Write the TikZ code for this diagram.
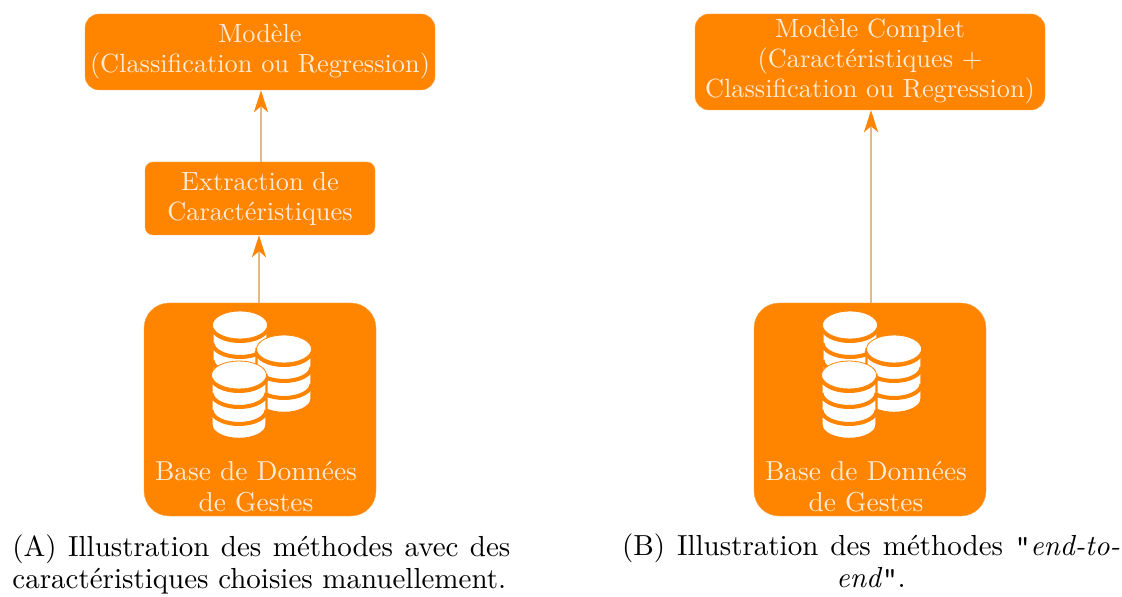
\documentclass[tikz,border=0pt]{standalone}
\usepackage{fontspec}
\setmainfont{lmroman10-regular}[Extension=.otf,ItalicFont=lmroman10-italic]
\setmonofont{lmmono10-regular}[Extension=.otf]
\usetikzlibrary{arrows.meta}
\definecolor{boxor}{HTML}{FF8400}
\definecolor{boxtxt}{HTML}{FFEAD6}
\definecolor{arrowtan}{HTML}{E4B98A}
\newcommand\lowarc[1]{(-27.5,#1) .. controls (-27.5,#1+7.7) and (-15.2,#1+14) .. (0,#1+14) .. controls (15.2,#1+14) and (27.5,#1+7.7) .. (27.5,#1)}
\tikzset{
  x=0.5pt,y=-0.5pt,
  blockbox/.style={fill=boxor,draw=boxor!70!white,line width=0.2pt,text=boxtxt,align=center,inner sep=0pt,font=\fontsize{13.15}{15}\selectfont},
  basebox/.style={blockbox,minimum width=116pt,minimum height=106.5pt,rounded corners=12.5pt},
  basetxt/.style={text=boxtxt,align=center,inner sep=0pt,font=\fontsize{13.7}{15.5}\selectfont},
  capt/.style={inner sep=0pt,text=black,font=\fontsize{14.5}{16}\selectfont},
  flow/.style={draw=arrowtan,line width=1.4pt,-{Stealth[length=11pt,width=7pt,inset=3pt,boxor]}},
  pics/dbstack/.style={code={
    \fill[white,draw=boxor,line width=1.2pt] (-27.5,14) -- (-27.5,64) .. controls (-27.5,71.7) and (-15.2,78) .. (0,78) .. controls (15.2,78) and (27.5,71.7) .. (27.5,64) -- (27.5,14) -- cycle;
    \foreach \yy in {16,32,49}{
      \draw[boxor,line width=2pt] \lowarc{\yy};
    }
    \fill[white,draw=boxor,line width=0.4pt] (0,14) ellipse[x radius=27.5,y radius=14];
  }}
}
\begin{document}
\begin{tikzpicture}
\useasboundingbox (0,0) rectangle (1122,597);
% left panel
\node[blockbox,minimum width=175pt,minimum height=38pt,rounded corners=7pt] (modA) at (260,52) {Modèle\\(Classification ou Regression)};
\node[blockbox,minimum width=115pt,minimum height=36.5pt,rounded corners=4pt] (ext) at (260,198.5) {Extraction de\\Caractéristiques};
\node[basebox] (baseA) at (260,409.5) {};
\pic at (240,311) {dbstack};
\pic at (284,335) {dbstack};
\pic at (239,361) {dbstack};
\node[basetxt] (txtA) at (256,487) {Base de Données\\de Gestes};
\draw[flow] ([xshift=0.5pt]ext.north) -- ([xshift=0.5pt]modA.south);
\draw[flow] ([xshift=-0.5pt]baseA.north) -- ([xshift=-0.5pt]ext.south);
\node[capt,align=left,anchor=west] (capA) at (12,564.5) {\makebox[249pt][s]{(A) Illustration des méthodes avec des}\\caractéristiques choisies manuellement.};
% right panel
\node[blockbox,minimum width=175pt,minimum height=48pt,rounded corners=7pt] (modB) at (870,62) {Modèle Complet\\(Caractéristiques +\\Classification ou Regression)};
\node[basebox] (baseB) at (870,409.5) {};
\pic at (850,311) {dbstack};
\pic at (894,335) {dbstack};
\pic at (849,361) {dbstack};
\node[basetxt] (txtB) at (866,487) {Base de Données\\de Gestes};
\draw[flow] ([xshift=0.5pt]baseB.north) -- ([xshift=0.5pt]modB.south);
\node[capt,align=center] (capB) at (871,561) {\makebox[249pt][s]{(B) Illustration des méthodes {\ttfamily"}\textit{end-to-}}\\\textit{end}{\ttfamily"}.};
\end{tikzpicture}
\end{document}
